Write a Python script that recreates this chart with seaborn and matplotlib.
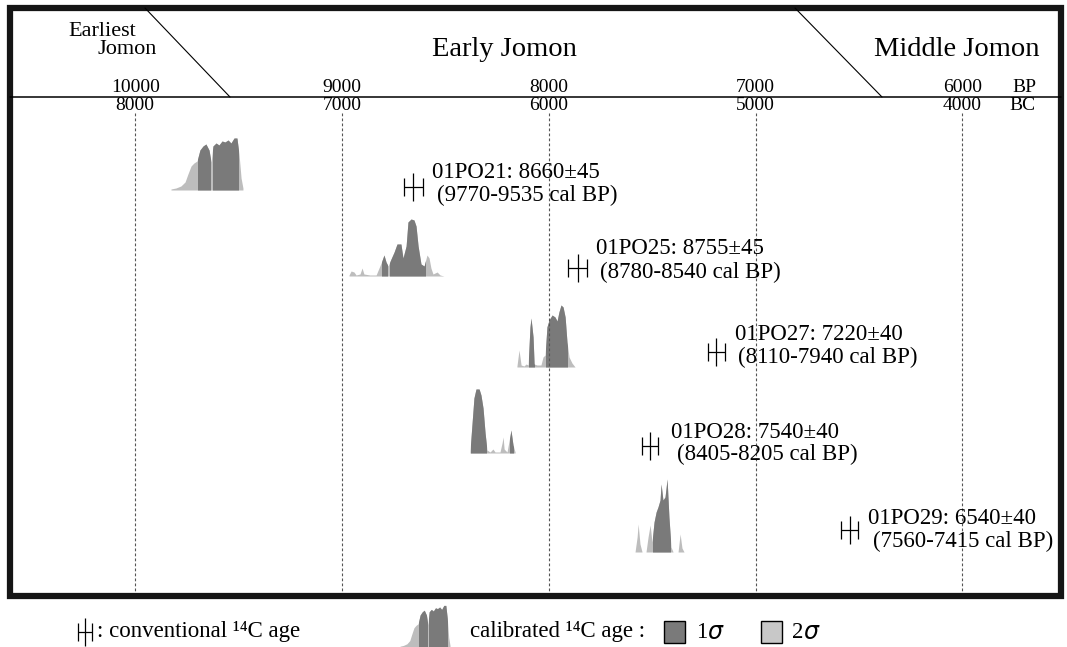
import numpy as np
import matplotlib
matplotlib.use("Agg")
import matplotlib.pyplot as plt
from matplotlib.patches import Rectangle
import seaborn as sns

# ---------------- data ----------------
bp_ticks = [10000, 9000, 8000, 7000, 6000]
bc_labels = ["8000", "7000", "6000", "5000", "4000"]

sample_ids = ["01PO21", "01PO25", "01PO27", "01PO28", "01PO29"]
conv_age = [8660, 8755, 7220, 7540, 6540]
conv_err = [45, 45, 40, 40, 40]
cal_ranges = ["9770-9535", "8780-8540", "8110-7940", "8405-8205", "7560-7415"]
# conventional-age marker positions as drawn (BP)
marker_bp = [8655, 7860, 7190, 7510, 6545]

# calibrated probability distributions (BP, relative probability)
cal1_bp = [9827, 9803, 9779, 9759, 9745, 9730, 9716, 9701, 9687, 9672, 9658, 9643, 9633,
           9624, 9609, 9595, 9580, 9566, 9551, 9537, 9522, 9508, 9498, 9488, 9479]
cal1_p = [1, 2, 4, 8, 16, 24, 27, 29, 40, 44, 46, 40, 28, 44, 47, 45, 49, 48, 50, 47, 52,
          52, 36, 12, 2]
cal1_1sigma = [(9696, 9638), (9626, 9503)]

cal2_bp = [8966, 8956, 8942, 8932, 8913, 8903, 8894, 8865, 8835, 8821, 8811, 8797, 8787,
           8777, 8763, 8748, 8734, 8715, 8705, 8690, 8681, 8666, 8652, 8642, 8632, 8618,
           8603, 8589, 8579, 8570, 8560, 8540, 8526, 8507]
cal2_p = [1, 5, 4, 1, 2, 8, 2, 1, 1, 8, 13, 21, 14, 10, 17, 24, 32, 32, 18, 30, 54, 57, 56,
          50, 30, 12, 10, 21, 18, 8, 2, 4, 1, 0]
cal2_1sigma = [(8806, 8782), (8768, 8600)]

cal3_bp = [8154, 8144, 8134, 8120, 8110, 8100, 8091, 8086, 8076, 8071, 8057, 8038, 8028,
           8018, 8009, 7999, 7984, 7970, 7960, 7951, 7941, 7931, 7921, 7912, 7902, 7888, 7873]
cal3_p = [1, 17, 2, 1, 3, 2, 40, 49, 30, 3, 2, 2, 10, 12, 40, 47, 52, 50, 46, 55, 62, 60,
          50, 25, 10, 4, 0]
cal3_1sigma = [(8095, 8071), (8013, 7912)]

cal4_bp = [8381, 8371, 8362, 8352, 8337, 8328, 8318, 8308, 8299, 8284, 8270, 8260, 8236,
           8226, 8221, 8216, 8202, 8187, 8183, 8173, 8163]
cal4_p = [2, 30, 55, 64, 64, 58, 45, 20, 3, 1, 4, 1, 1, 10, 16, 4, 1, 18, 23, 8, 1]
cal4_1sigma = [(8376, 8304), (8190, 8175)]

cal5_bp = [7583, 7573, 7568, 7559, 7549, 7530, 7520, 7510, 7501, 7491, 7481, 7472, 7462,
           7457, 7448, 7438, 7428, 7419, 7409, 7399, 7375, 7365, 7356, 7346]
cal5_p = [0, 15, 28, 8, 0, 0, 15, 27, 10, 30, 40, 45, 52, 68, 52, 55, 73, 35, 5, 0, 0, 18,
          4, 0]
cal5_1sigma = [(7496, 7414)]

cal_bp = [cal1_bp, cal2_bp, cal3_bp, cal4_bp, cal5_bp]
cal_p = [cal1_p, cal2_p, cal3_p, cal4_p, cal5_p]
cal_1sigma = [cal1_1sigma, cal2_1sigma, cal3_1sigma, cal4_1sigma, cal5_1sigma]

# ---------------- layout / style ----------------
W, H = 1067, 647
X0, SLOPE = 135.2, 0.2068          # pixel x of 10000 BP, px per year
DARK, LIGHT = "#7a7a7a", "#bdbdbd"
row_base = [190, 276, 367, 453, 552]
marker_y = [187, 268, 352, 446, 530]
label_pos = [(432, 172, 437, 195), (596, 248, 600, 272), (735, 334, 738, 357),
             (671, 432, 677, 454), (868, 518, 873, 541)]

sns.set_theme(style="white")
plt.rcParams["font.family"] = ["Liberation Serif", "DejaVu Sans"]
plt.rcParams["text.color"] = "black"

fig = plt.figure(figsize=(W / 100, H / 100), dpi=100)
# data axes: x in years BP (reversed), y in pixel rows
ax = fig.add_axes([0, 0, 1, 1])
ax.set_xlim(10000 + X0 / SLOPE, 10000 - (W - X0) / SLOPE)
ax.set_ylim(H, 0)
ax.axis("off")
# layout overlay in pixel coordinates
lay = fig.add_axes([0, 0, 1, 1], facecolor="none")
lay.set_xlim(0, W)
lay.set_ylim(H, 0)
lay.axis("off")

# frame, header line, period dividers
lay.add_patch(Rectangle((10, 7.5), 1051, 588, fill=False, lw=4.5, ec="#151515",
                        joinstyle="miter"))
lay.plot([10, 1061], [97, 97], color="black", lw=1.1)
lay.plot([145, 230], [8, 97], color="black", lw=0.8)
lay.plot([795, 882], [8, 97], color="black", lw=0.8)

lay.text(68, 31, "Earliest", fontsize=16, va="center", ha="left")
lay.text(97, 50, "Jomon", fontsize=16, va="center", ha="left")
lay.text(504, 50, "Early Jomon", fontsize=20.5, va="center", ha="center")
lay.text(957, 50, "Middle Jomon", fontsize=20.5, va="center", ha="center")

# axis ticks (BP above, BC below) and dashed gridlines
for bp, bc in zip(bp_ticks, bc_labels):
    ax.text(bp, 87, f"{bp}", fontsize=14, ha="center", va="center")
    ax.text(bp, 106, bc, fontsize=14, ha="center", va="center")
    ax.plot([bp, bp], [113, 593], color="#555555", lw=0.8, ls=(0, (2.5, 2)))
lay.text(1036, 87, "BP", fontsize=14, ha="right", va="center")
lay.text(1036, 106, "BC", fontsize=14, ha="right", va="center")


def draw_dist(axis, xs, ps, sig, base, scale=1.0):
    xs = np.asarray(xs, float)
    ys = base - np.asarray(ps, float) * scale
    axis.fill_between(xs, base, ys, color=LIGHT, lw=0)
    for hi, lo in sig:
        poly = axis.fill_between(xs, base, ys, color=DARK, lw=0)
        poly.set_clip_path(Rectangle((min(lo, hi), -10), abs(hi - lo), H + 20,
                                     transform=axis.transData))


# calibrated distributions
for xs, ps, sig, base in zip(cal_bp, cal_p, cal_1sigma, row_base):
    draw_dist(ax, xs, ps, sig, base)

# conventional ages with error bars
ax.errorbar(marker_bp, marker_y, xerr=conv_err, fmt="none", ecolor="black",
            elinewidth=0.9, capsize=6.5, capthick=0.9)
sns.scatterplot(x=marker_bp, y=marker_y, marker="|", s=400, color="black",
                linewidth=0.9, ax=ax, legend=False)

# labels
for sid, age, err, rng, (x1, y1, x2, y2) in zip(sample_ids, conv_age, conv_err,
                                                cal_ranges, label_pos):
    lay.text(x1, y1, f"{sid}: {age}±{err}", fontsize=16.5, ha="left", va="center")
    lay.text(x2, y2, f"({rng} cal BP)", fontsize=16.5, ha="left", va="center")

# ---------------- legend ----------------
lay.errorbar([85], [632], xerr=[7], fmt="none", ecolor="black", elinewidth=0.9,
             capsize=6.5, capthick=0.9)
lay.scatter([85], [632], marker="|", s=400, color="black", linewidths=0.9)
lay.text(97, 632, ": conventional ¹⁴C age", fontsize=16.5, ha="left", va="center")

b0, b1 = cal1_bp[0], cal1_bp[-1]
icon_x = [400 + (b0 - b) / (b0 - b1) * 50 for b in cal1_bp]
icon_sig = [tuple(400 + (b0 - b) / (b0 - b1) * 50 for b in s) for s in cal1_1sigma]
draw_dist(lay, icon_x, cal1_p, [(lo, hi) for hi, lo in icon_sig], 647, scale=0.8)

lay.text(470, 632, "calibrated ¹⁴C age :", fontsize=16.5, ha="left", va="center")
lay.add_patch(Rectangle((664, 621), 21, 22, fc=DARK, ec="black", lw=1))
lay.text(696, 632, "1", fontsize=16.5, ha="left", va="center")
lay.text(707, 632, "σ", fontsize=17, ha="left", va="center", style="italic",
         family=["DejaVu Sans"])
lay.add_patch(Rectangle((761, 621), 21, 22, fc="#c8c8c8", ec="black", lw=1))
lay.text(792, 632, "2", fontsize=16.5, ha="left", va="center")
lay.text(803, 632, "σ", fontsize=17, ha="left", va="center", style="italic",
         family=["DejaVu Sans"])

fig.savefig("out.png", dpi=100)
